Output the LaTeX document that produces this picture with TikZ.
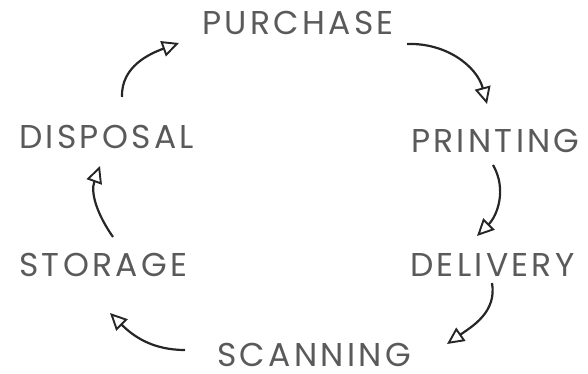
\documentclass[tikz,border=0pt]{standalone}
\usepackage{fontspec}
\setmainfont{Poppins}[LetterSpace=10]
\usetikzlibrary{arrows.meta}
\definecolor{txt}{HTML}{5A5A5A}
\definecolor{ink}{HTML}{262626}
\tikzset{
  lbl/.style={text=txt, font=\fontsize{33}{33}\selectfont, inner sep=0pt, text depth=0pt, anchor=base west},
  cyc/.style={draw=ink, line width=2.2pt, -{Triangle[open,length=17pt,width=16pt,line width=1.9pt]}}
}
\begin{document}
\begin{tikzpicture}[x=1pt,y=-1pt]
\useasboundingbox (0,0) rectangle (588,374);
\node[lbl] (pur) at (202,35) {PURCHASE};
\node[lbl] (pri) at (411,153) {PRINTING};
\node[lbl] (del) at (410,276) {DELIVERY};
\node[lbl] (sca) at (217,366) {SCANNING};
\node[lbl] (sto) at (19,276) {STORAGE};
\node[lbl] (dis) at (19,149) {DISPOSAL};
\coordinate (a1s) at (407,44);  \coordinate (a1e) at (487,104);
\coordinate (a2s) at (493,165); \coordinate (a2e) at (477,236);
\coordinate (a3s) at (492,283); \coordinate (a3e) at (447,344);
\coordinate (a4s) at (185,350); \coordinate (a4e) at (110,313);
\coordinate (a5s) at (113,237); \coordinate (a5e) at (100,166);
\coordinate (a6s) at (122,97);  \coordinate (a6e) at (179,43);
\draw[cyc] (a1s) to[out=2, in=105] (a1e);
\draw[cyc] (a2s) to[out=-60, in=45] (a2e);
\draw[cyc] (a3s) to[out=-80, in=35] (a3e);
\draw[cyc] (a4s) to[out=180, in=-45] (a4e);
\draw[cyc] (a5s) to[out=125, in=-110] (a5e);
\draw[cyc] (a6s) to[out=92, in=200] (a6e);
\end{tikzpicture}
\end{document}
